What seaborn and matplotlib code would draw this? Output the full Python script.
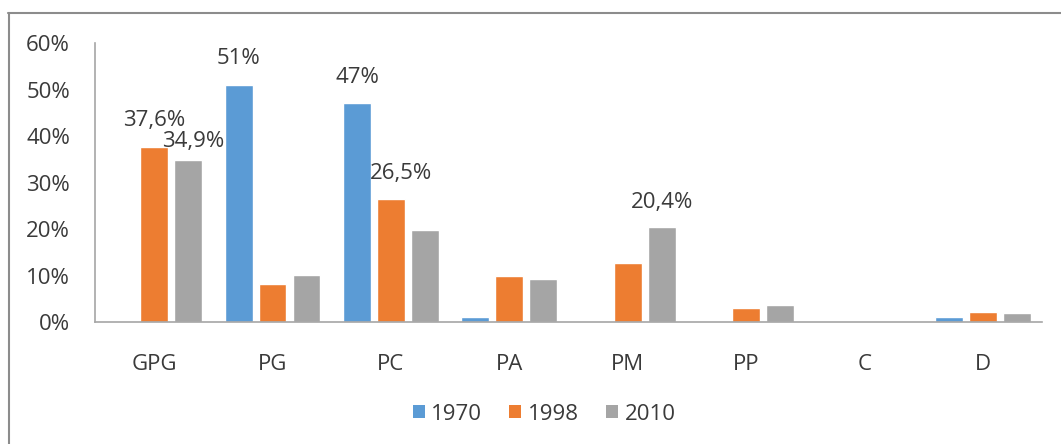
import matplotlib
matplotlib.use("Agg")
import matplotlib.pyplot as plt
import seaborn as sns
import pandas as pd
from matplotlib.patches import Patch
from matplotlib.lines import Line2D

categories = ["GPG", "PG", "PC", "PA", "PM", "PP", "C", "D"]
years = ["1970", "1998", "2010"]
v1970 = [0.0, 51.0, 47.0, 1.1, 0.0, 0.0, 0.0, 1.1]
v1998 = [37.6, 8.2, 26.5, 9.9, 12.7, 3.0, 0.0, 2.1]
v2010 = [34.9, 10.1, 19.8, 9.3, 20.4, 3.6, 0.0, 2.0]
colors = ["#5B9BD5", "#ED7D31", "#A5A5A5"]

# labelled bars: (category, year, text)
labels = [("GPG", "1998", "37,6%"), ("GPG", "2010", "34,9%"),
          ("PG", "1970", "51%"), ("PC", "1970", "47%"),
          ("PC", "1998", "26,5%"), ("PM", "2010", "20,4%")]
# label placement offsets in points (dx, dy)
label_offsets = [(0, 19), (4, 13), (0, 19), (0, 18.5), (7, 18.5), (0, 18)]

rows = []
for y, vals in zip(years, [v1970, v1998, v2010]):
    for c, v in zip(categories, vals):
        rows.append({"cat": c, "year": y, "val": v})
df = pd.DataFrame(rows)

sns.set_style("white")
FONT = ["Open Sans", "DejaVu Sans"]
plt.rcParams["font.family"] = FONT
TXT = "#3a3a3a"
FS = 16

fig = plt.figure(figsize=(10.61, 4.44), dpi=100)
ax = fig.add_axes([95 / 1061, 1 - 322 / 444, (1042 - 95) / 1061, (322 - 43) / 444])

sns.barplot(data=df, x="cat", y="val", hue="year", order=categories,
            hue_order=years, palette=colors, width=0.86, gap=0.18,
            saturation=1, ax=ax, legend=False)

ax.set_ylim(0, 60)
ax.set_xlim(-0.5, len(categories) - 0.5)
ax.set_yticks(range(0, 61, 10))
ax.set_yticklabels([f"{t}%" for t in range(0, 61, 10)], fontsize=FS, color=TXT)
ax.tick_params(axis="y", length=0, pad=18)
ax.tick_params(axis="x", length=0, pad=23, labelsize=FS, labelcolor=TXT)
ax.set_xlabel("")
ax.set_ylabel("")
for s in ["top", "right"]:
    ax.spines[s].set_visible(False)
for s in ["left", "bottom"]:
    ax.spines[s].set_color("#A6A6A6")
    ax.spines[s].set_linewidth(1.2)

slot = 0.86 / 3
for (cat, yr, txt), (dx, dy) in zip(labels, label_offsets):
    i = categories.index(cat)
    j = years.index(yr)
    val = df[(df.cat == cat) & (df.year == yr)].val.iloc[0]
    x = i - 0.86 / 2 + slot * (j + 0.5)
    ax.annotate(txt, (x, val), xytext=(dx, dy), textcoords="offset points",
                ha="center", va="center", fontsize=FS, color=TXT)

handles = [Patch(facecolor=c, edgecolor="none") for c in colors]
fig.legend(handles, years, loc="center", bbox_to_anchor=(544 / 1061, 1 - 414 / 444),
           ncol=3, frameon=False, fontsize=FS, handlelength=0.55, handleheight=0.55,
           handletextpad=0.3, columnspacing=1.2, labelcolor=TXT)

# chart-area border (top and left visible in the crop)
fig.add_artist(Line2D([8 / 1061, 1], [1 - 13 / 444, 1 - 13 / 444], color="#8C8C8C",
                      lw=1.5, transform=fig.transFigure))
fig.add_artist(Line2D([9 / 1061, 9 / 1061], [0, 1 - 13 / 444], color="#8C8C8C",
                      lw=1.5, transform=fig.transFigure))

fig.savefig("out.png", dpi=100)
